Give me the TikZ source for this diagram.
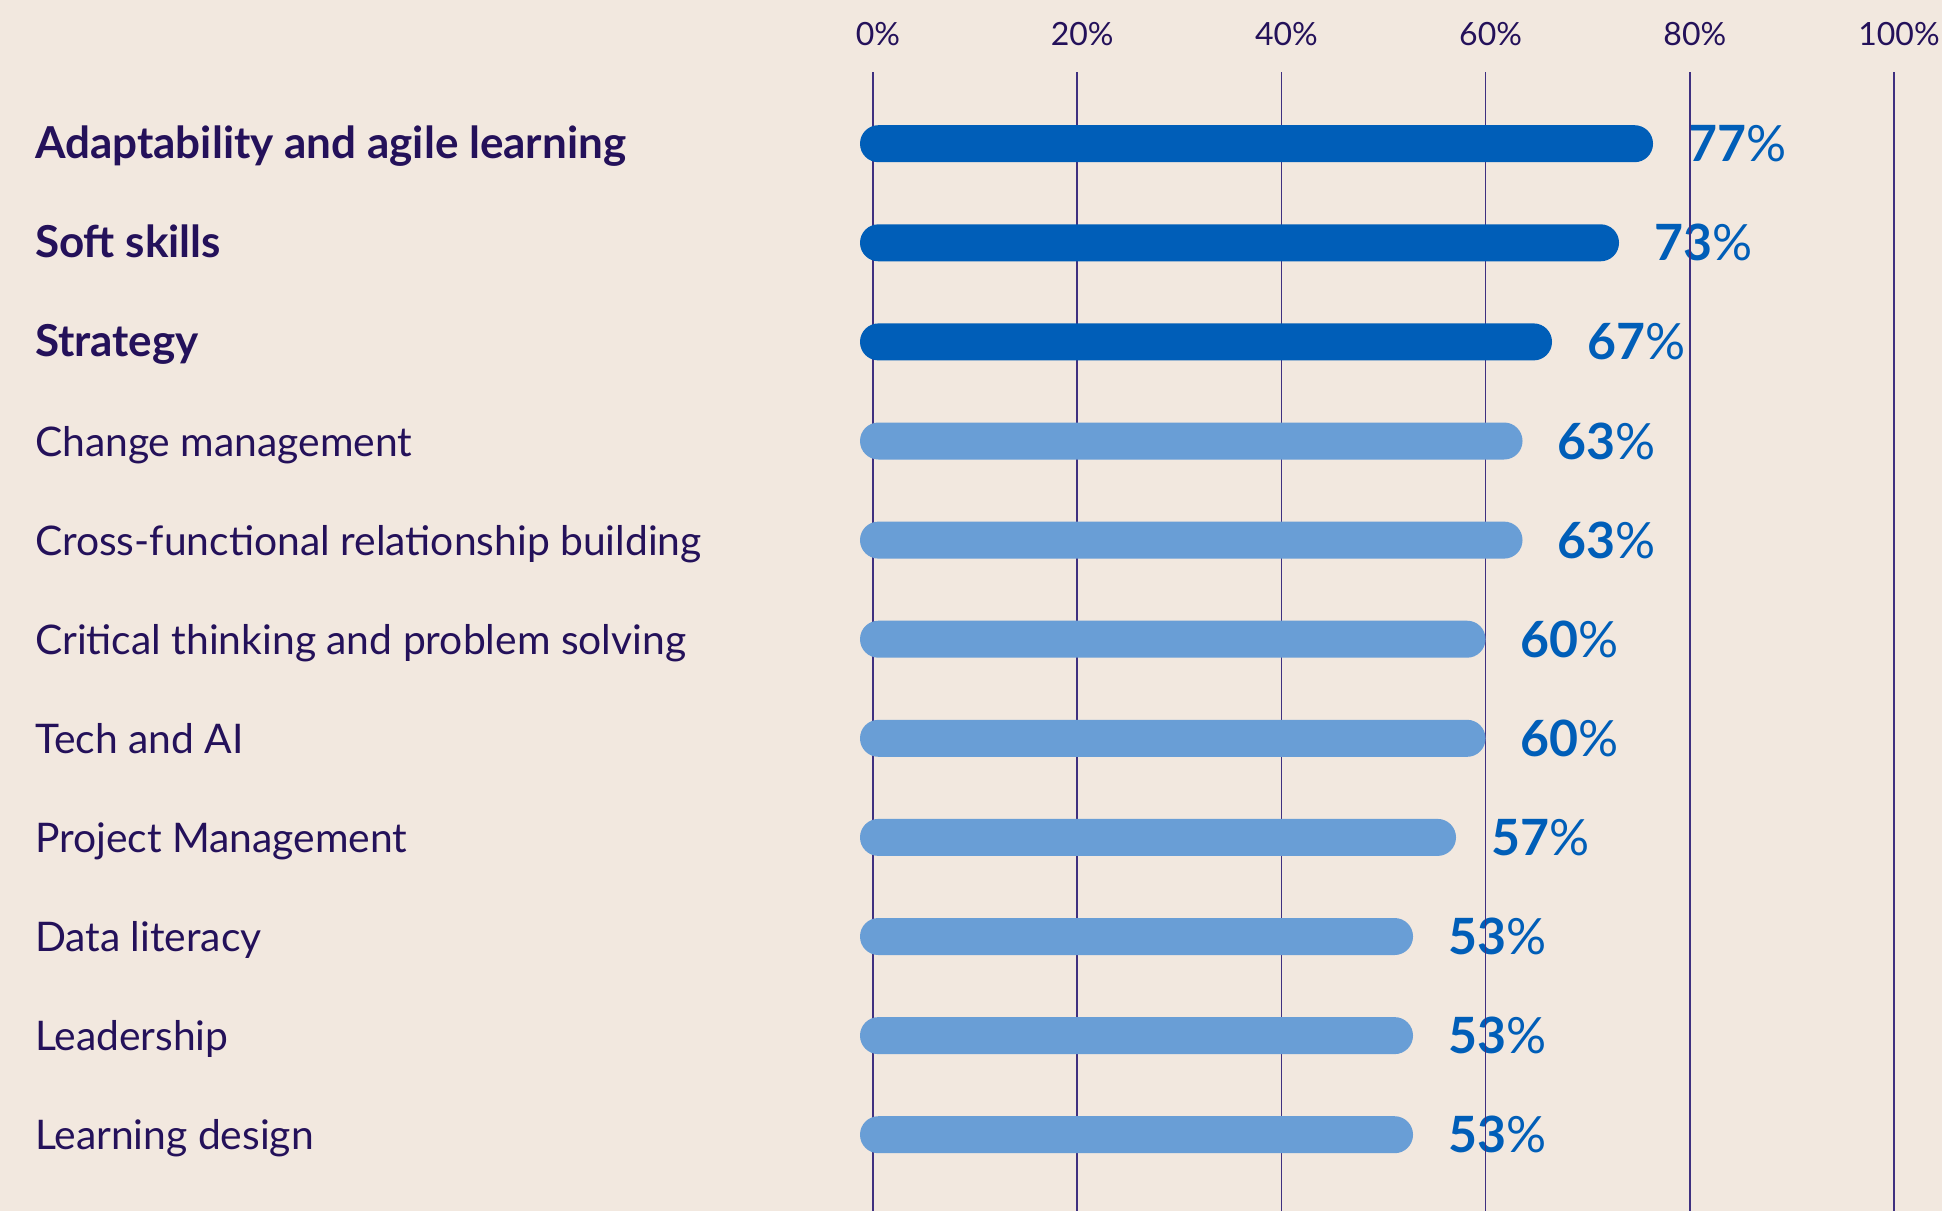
\documentclass[tikz,border=0pt]{standalone}
\usepackage{fontspec}
\setmainfont{Lato}
\usetikzlibrary{positioning}
\definecolor{bgcream}{HTML}{F2E8DF}
\definecolor{inkpurple}{HTML}{24115A}
\definecolor{gridpurple}{HTML}{3F3080}
\definecolor{bardark}{HTML}{005EB8}
\definecolor{barlight}{HTML}{699ED6}
\pgfdeclarelayer{bg}
\pgfdeclarelayer{back}
\pgfsetlayers{bg,back,main}

\begin{document}
\begin{tikzpicture}[x=0.5pt, y=-0.5pt, every node/.style={inner sep=0pt, outer sep=0pt},
    skill/.style={anchor=base west, text=inkpurple},
    pct/.style={anchor=base west, text=bardark, font=\fontsize{25}{30}\selectfont},
    tick/.style={anchor=base, text=inkpurple, font=\fontsize{16}{19}\selectfont},
    gridline/.style={draw=gridpurple, line width=0.75pt}]
    \begin{pgfonlayer}{bg}
        \fill[bgcream] (0,0) rectangle (1942,1211);
    \end{pgfonlayer}
    \useasboundingbox (0,0) rectangle (1942,1211);
    % axis
    \foreach \t in {0,20,...,100} {
        \node[tick] (tick\t) at (878+10.21*\t,45) {\t\%};
        \coordinate (gtop\t) at (873+10.21*\t,72);
        \coordinate (gbot\t) at (873+10.21*\t,1211);
        \draw[gridline] (gtop\t) -- (gbot\t);
    }
    % rows: index/label/value/bar end/colour/weight
    \foreach \i/\lbl/\v/\e/\tone/\wt in {0/Adaptability and agile learning/77/1653/bardark/\bfseries\fontsize{22}{26}\selectfont,
        1/Soft skills/73/1619/bardark/\bfseries\fontsize{22}{26}\selectfont,
        2/Strategy/67/1552/bardark/\bfseries\fontsize{22}{26}\selectfont,
        3/Change management/63/1522.5/barlight/\fontsize{20.4}{24}\selectfont,
        4/Cross-functional relationship building/63/1522.5/barlight/\fontsize{20.4}{24}\selectfont,
        5/Critical thinking and problem solving/60/1485.5/barlight/\fontsize{20.4}{24}\selectfont,
        6/Tech and AI/60/1485.5/barlight/\fontsize{20.4}{24}\selectfont,
        7/Project Management/57/1456/barlight/\fontsize{20.4}{24}\selectfont,
        8/Data literacy/53/1413/barlight/\fontsize{20.4}{24}\selectfont,
        9/Leadership/53/1413/barlight/\fontsize{20.4}{24}\selectfont,
        10/Learning design/53/1413/barlight/\fontsize{20.4}{24}\selectfont} {
        \pgfmathsetmacro{\rowy}{143.7+99.1*\i}
        \node[skill, font=\wt] (lab\i) at (35,\rowy+15) {\lbl};
        \fill[\tone, rounded corners=9.2pt] (860,\rowy-18.5) rectangle (\e,\rowy+18.5);
        \begin{pgfonlayer}{back}
            \node[pct] (val\i) at (\e+35,\rowy+18) {\textbf{\v}\%};
        \end{pgfonlayer}
    }
\end{tikzpicture}
\end{document}
